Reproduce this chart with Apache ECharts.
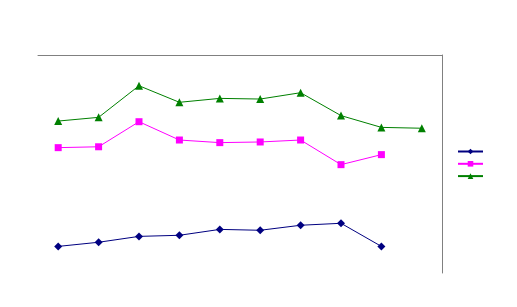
<!DOCTYPE html>
<html><head><meta charset="utf-8">
<script src="https://cdn.jsdelivr.net/npm/echarts@6/dist/echarts.min.js"></script>
<style>html,body{margin:0;padding:0;background:#fff}#c{width:517px;height:307px}</style>
</head><body><div id="c"></div>
<script>
const categories = ['1','2','3','4','5','6','7','8','9','10'];
const seriesNames = ['Series 1','Series 2','Series 3'];
const navyValues = [12.2, 14.1, 16.8, 17.3, 20.0, 19.6, 21.9, 22.8, 12.2, null];
const magentaValues = [57.5, 57.9, 69.4, 61.0, 59.8, 60.1, 61.0, 49.7, 54.3, null];
const greenValues = [69.7, 71.4, 85.9, 78.3, 80.1, 79.8, 82.7, 72.2, 66.8, 66.4];

const chart = echarts.init(document.getElementById('c'), null, {renderer:'canvas'});
function mk(name, data, color, symbol, size){
  return {name, type:'line', data, symbol, symbolSize:size, showSymbol:true,
    lineStyle:{color, width:1}, itemStyle:{color}, connectNulls:false};
}
chart.setOption({
  animation:false,
  backgroundColor:'#fff',
  grid:{left:38, top:55, right:75, bottom:34, containLabel:false},
  legend:{orient:'vertical', left:457, top:148, padding:0, itemGap:6, itemWidth:25, itemHeight:7,
    formatter:()=>'', data:seriesNames, textStyle:{fontSize:1}},
  xAxis:{type:'category', data:categories, position:'top', boundaryGap:true,
    axisLine:{show:true, onZero:false, lineStyle:{color:'#808080', width:1}},
    axisTick:{show:false}, axisLabel:{show:false}, splitLine:{show:false}},
  yAxis:{type:'value', min:0, max:100, position:'right',
    axisLine:{show:true, onZero:false, lineStyle:{color:'#808080', width:1}},
    axisTick:{show:false}, axisLabel:{show:false}, splitLine:{show:false}},
  series:[
    mk(seriesNames[0], navyValues, '#000080', 'diamond', 8),
    mk(seriesNames[1], magentaValues, '#FF00FF', 'rect', 7),
    mk(seriesNames[2], greenValues, '#008000', 'triangle', 8)
  ]
});
</script></body></html>
